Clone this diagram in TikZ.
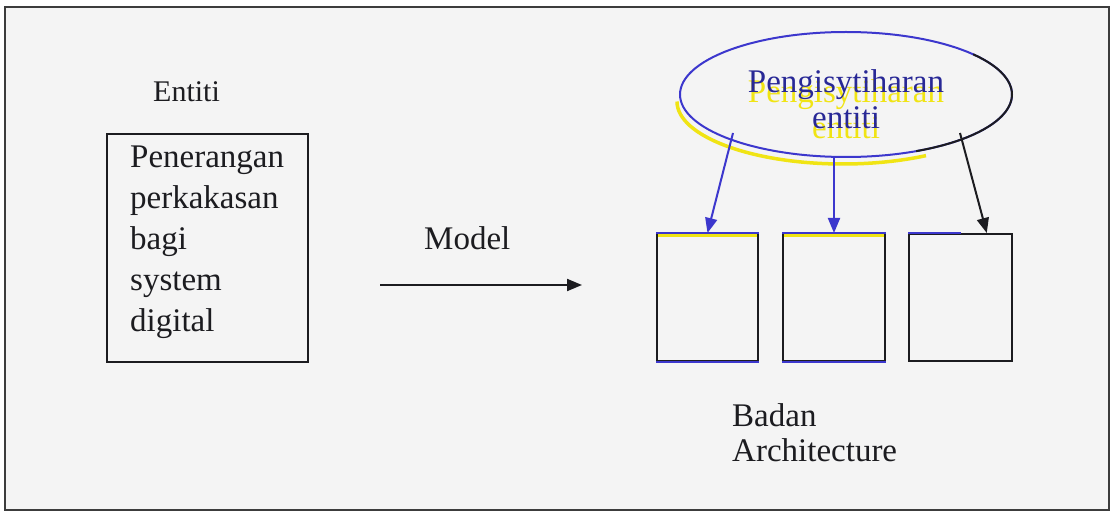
\documentclass[tikz,border=0pt]{standalone}
\usepackage{fontspec}
\setmainfont{Liberation Serif}
\usetikzlibrary{shapes.geometric,arrows.meta,calc}
\definecolor{bgc}{RGB}{244,244,244}
\definecolor{ink}{RGB}{28,28,32}
\definecolor{framec}{RGB}{60,60,60}
\definecolor{blu}{RGB}{60,55,205}
\definecolor{txtblu}{RGB}{40,40,150}
\definecolor{yel}{RGB}{240,228,20}
\tikzset{
  bigtext/.style={font=\fontsize{33}{41}\selectfont, text=ink, inner sep=0pt, align=left},
  emptybox/.style={draw=ink, line width=2pt, rectangle, inner sep=0pt, minimum height=127pt},
  conn/.style={line width=2pt, -{Triangle[length=15pt,width=12pt]}},
}
\begin{document}
\begin{tikzpicture}[x=1pt,y=-1pt]
\useasboundingbox (0,0) rectangle (1111,513);
\fill[white] (0,0) rectangle (1111,513);
\fill[bgc] (5,7) rectangle (1109,510);
\draw[framec, line width=2pt] (5,7) rectangle (1109,510);

% left side
\node[bigtext, font=\fontsize{30}{36}\selectfont, anchor=base west] (ent) at (153,102) {Entiti};
\node[draw=ink, line width=2pt, rectangle, inner sep=0pt, minimum width=201pt, minimum height=228pt] (lbox) at (207.5,248) {};
\node[bigtext, anchor=north west] (ltext) at (130,146) {Penerangan\\perkakasan\\bagi\\system\\digital};

% model arrow
\node[bigtext, anchor=base west] (model) at (424,249) {Model};
\coordinate (ma) at (380,285);
\coordinate (mb) at (582,285);
\draw[conn, draw=ink, fill=ink] (ma) -- (mb);

% ellipse with yellow shadow
\node[ellipse, inner sep=0pt, minimum width=332pt, minimum height=125pt] (ell) at (846,94.5) {};
\draw[yel, line width=3.5pt] ($(ell.center)+(-3,7)$) ++(-166,0) arc[start angle=180, end angle=300, x radius=166, y radius=-62.5];
\node[font=\fontsize{33}{36}\selectfont, text=yel, inner sep=0pt, align=center, anchor=north] (elly) at (846,79.5) {Pengisytiharan\\entiti};
\draw[blu, line width=2pt] (ell.center) ellipse[x radius=166, y radius=62.5];
\draw[ink, line width=2pt] ($(ell.center)$) ++(-40:166 and 62.5) arc[start angle=-40, end angle=65, x radius=166, y radius=62.5];
\node[font=\fontsize{33}{36}\selectfont, text=txtblu, inner sep=0pt, align=center, anchor=north] (ellt) at (846,69.5) {Pengisytiharan\\entiti};

% three boxes
\node[emptybox, minimum width=101pt] (b1) at (707.5,297.5) {};
\node[emptybox, minimum width=102pt] (b2) at (834,297.5) {};
\node[emptybox, minimum width=103pt] (b3) at (960.5,297.5) {};
\foreach \b in {b1,b2}{
  \draw[yel, line width=3pt] ($(\b.north west)+(2,3)$) -- ($(\b.north east)+(-2,3)$);
  \draw[blu, line width=2pt] (\b.north west) -- (\b.north east);
  \draw[blu, line width=1.5pt] (\b.south west) -- (\b.south east);
}
\draw[blu, line width=1.5pt] (b3.north west) -- ($(b3.north west)!0.5!(b3.north east)$);

% arrows from ellipse
\draw[conn, draw=blu, fill=blu] ($(ell.center)+(-113,38.5)$) -- (b1.north);
\draw[conn, draw=blu, fill=blu] (b2.north |- ell.south) -- (b2.north);
\draw[conn, draw=ink, fill=ink] ($(ell.center)+(114,38.5)$) -- ($(b3.north)!0.5!(b3.north east)$);

% label
\node[bigtext, font=\fontsize{33}{35}\selectfont, anchor=north west] (badan) at (732,403) {Badan\\Architecture};
\end{tikzpicture}
\end{document}
